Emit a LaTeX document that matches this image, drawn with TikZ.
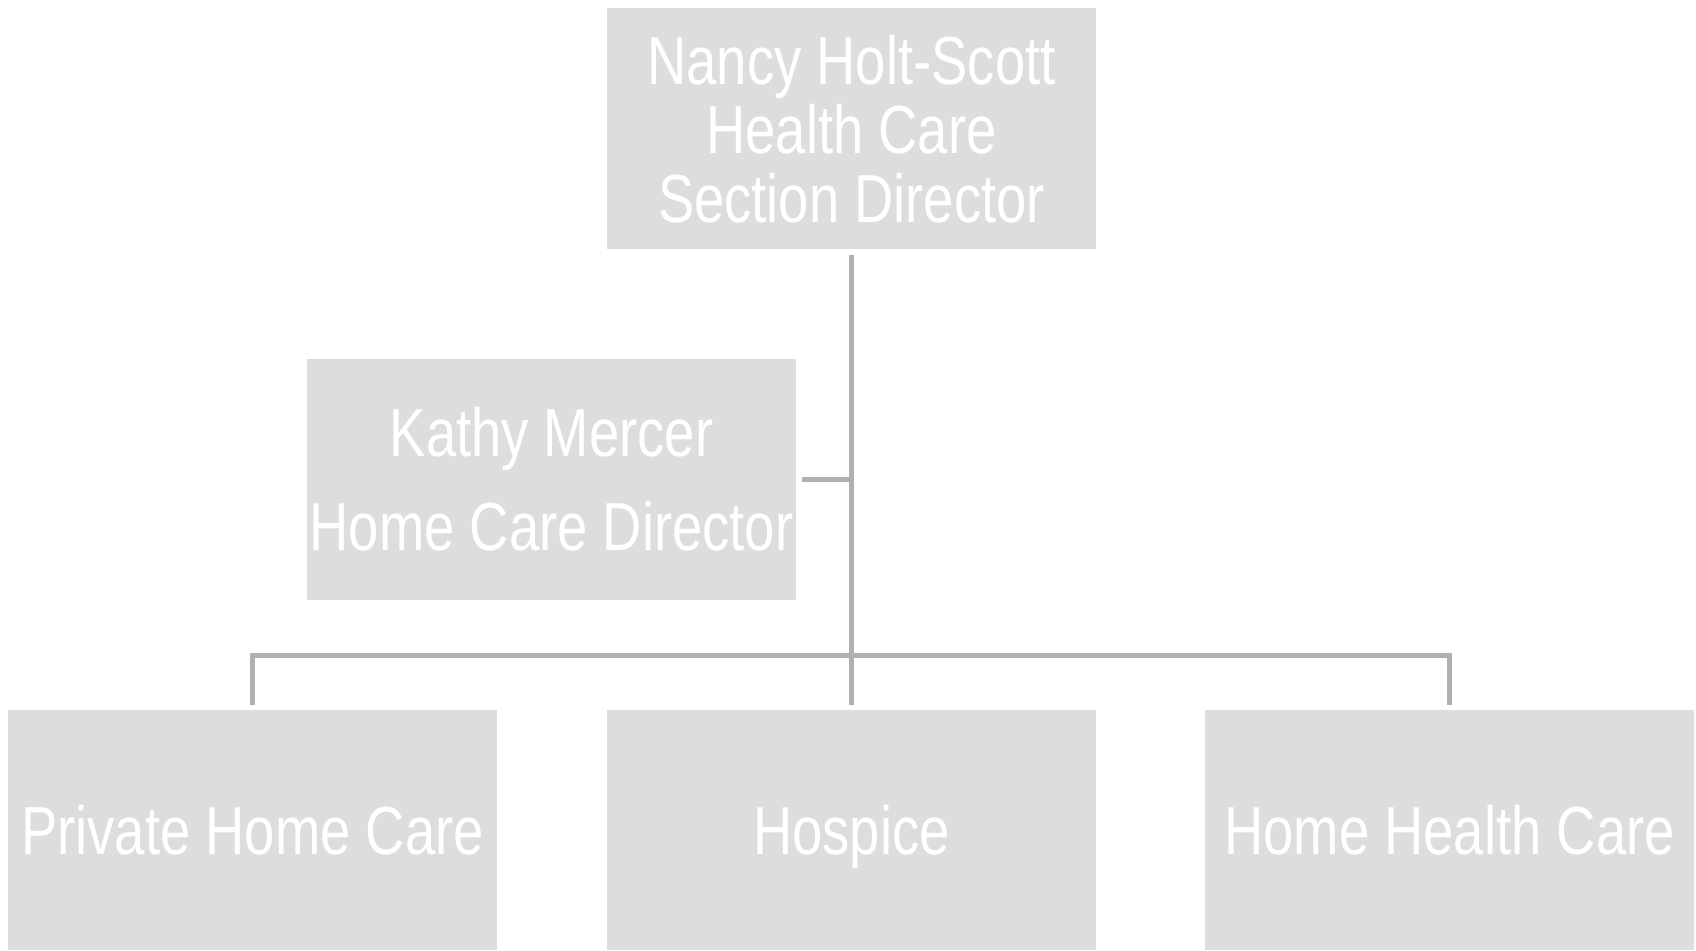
\documentclass[tikz,border=0pt]{standalone}
\usepackage{fontspec}
\setmainfont[FakeStretch=0.8]{Liberation Sans}
\definecolor{boxfill}{HTML}{DDDDDD}
\definecolor{linegray}{HTML}{B0B0B0}
\tikzset{
  orgbox/.style={fill=boxfill, draw=none, minimum width=489pt, minimum height=241pt,
    inner sep=0pt, align=center, text=white},
  unitbox/.style={orgbox, minimum height=240pt, text depth=0pt, font=\fontsize{68}{69}\selectfont},
  conn/.style={draw=linegray, line width=5pt}
}
\begin{document}
\begin{tikzpicture}[x=1pt,y=1pt]
\useasboundingbox (0,0) rectangle (1696,950);
\node[orgbox, font=\fontsize{68}{69}\selectfont] (top) at (851.5,821) {Nancy Holt-Scott\\Health Care\\Section Director};
\node[orgbox, font=\fontsize{68}{94}\selectfont] (kathy) at (551.5,470.5) {Kathy Mercer\\Home Care Director};
\node[unitbox] (b1) at (252.5,120) {Private Home Care};
\node[unitbox] (b2) at (851.5,120) {Hospice};
\node[unitbox] (b3) at (1449.5,120) {Home Health Care};
\coordinate (bus) at (851.5,294);
\draw[conn] ([yshift=-5pt]top.south) -- ([yshift=5pt]b2.north);
\draw[conn] ([yshift=5pt]b1.north) |- (bus) -| ([yshift=5pt]b3.north);
\draw[conn] ([xshift=6pt]kathy.east) -- (kathy.east -| top.south);
\end{tikzpicture}
\end{document}
